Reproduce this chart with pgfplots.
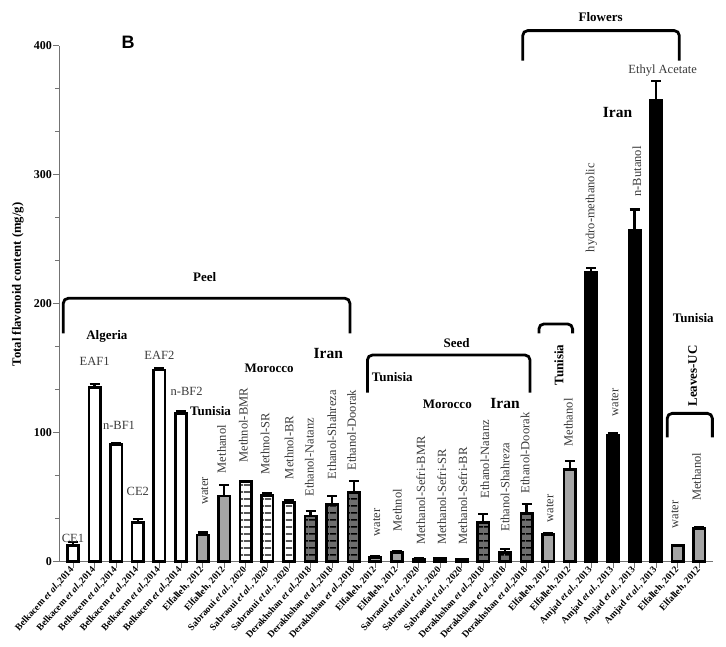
\documentclass[border=0pt]{standalone}
\usepackage{pgfplots}
\pgfplotsset{compat=1.18}
\usepackage{fontspec}
\setmainfont{Liberation Serif}
\newfontfamily\sansfont{Liberation Sans}
\usetikzlibrary{patterns.meta}
\definecolor{tgray}{HTML}{A5A5A5}
\definecolor{igray}{HTML}{6E6E6E}
\definecolor{lblgray}{HTML}{3A3A3A}
\tikzset{
  lbl/.style={font=\fontsize{12.5}{13}\selectfont, text=lblgray, inner sep=0pt},
  rlbl/.style={lbl, rotate=90, anchor=west},
  cty/.style={font=\bfseries\fontsize{13}{13}\selectfont, inner sep=0pt},
  iranlbl/.style={font=\bfseries\fontsize{15.5}{16}\selectfont, inner sep=0pt},
  brk/.style={line width=2.8pt, rounded corners=5pt},
}

\pgfplotstableread{
x y e
0 12.4 2.8
1 134.9 2.6
2 91.0 1.3
3 30.5 2.3
4 148.6 1.8
5 115.0 2.0
}\algeria
\pgfplotstableread{
x y e
6 20.7 2.0
7 50.9 8.5
14 3.4 1.3
15 7.0 1.3
22 21.2 1.3
23 71.6 6.4
28 12.4 0.8
29 25.6 1.5
}\tunisia
\pgfplotstableread{
x y e
8 62.0 0.0
9 51.4 2.1
10 45.7 2.1
16 2.0 0.5
17 2.3 0.8
18 1.5 0.3
}\morocco
\pgfplotstableread{
x y e
11 35.4 4.1
12 44.4 6.7
13 53.5 9.3
19 30.2 6.8
20 7.2 2.8
21 37.5 7.0
}\iran
\pgfplotstableread{
x y e
24 224.6 3.0
25 97.7 1.8
26 257.0 16.0
27 358.0 14.7
}\iranfl

\begin{document}
\begin{tikzpicture}
\useasboundingbox (-59pt,-84.3pt) rectangle (667pt,561.7pt);
\begin{axis}[
  scale only axis, width=654pt, height=516pt,
  xmin=-0.648, xmax=29.63, ymin=0, ymax=400,
  axis lines=left, axis line style={black!55, line width=0.8pt, -},
  clip=false,
  ytick={0,100,200,300,400}, minor y tick num=2,
  xtick={0,...,29},
  xticklabels={
    {Belkacem \textit{et al.},2014},{Belkacem \textit{et al.},2014},{Belkacem \textit{et al.},2014},
    {Belkacem \textit{et al.},2014},{Belkacem \textit{et al.},2014},{Belkacem \textit{et al.},2014},
    {Elfalleh, 2012},{Elfalleh, 2012},
    {Sabraoui \textit{et al.}, 2020},{Sabraoui \textit{et al.}, 2020},{Sabraoui \textit{et al.}, 2020},
    {Derakhshan \textit{et al.},2018},{Derakhshan \textit{et al.},2018},{Derakhshan \textit{et al.},2018},
    {Elfalleh, 2012},{Elfalleh, 2012},
    {Sabraoui \textit{et al.}, 2020},{Sabraoui \textit{et al.}, 2020},{Sabraoui \textit{et al.}, 2020},
    {Derakhshan \textit{et al.},2018},{Derakhshan \textit{et al.},2018},{Derakhshan \textit{et al.},2018},
    {Elfalleh, 2012},{Elfalleh, 2012},
    {Amjad \textit{et al.}, 2013},{Amjad \textit{et al.}, 2013},{Amjad \textit{et al.}, 2013},{Amjad \textit{et al.}, 2013},
    {Elfalleh, 2012},{Elfalleh, 2012}},
  tick style={black!55, line width=0.8pt},
  major tick length=6pt, minor tick length=4pt,
  tick align=outside,
  /pgf/number format/assume math mode=true,
  yticklabel style={font=\bfseries\fontsize{12}{12}\selectfont, inner sep=1pt},
  xticklabel style={font=\bfseries\fontsize{9.5}{10}\selectfont, rotate=48, anchor=east, inner sep=1pt},
  barsty/.style={ybar, bar width=11.5pt, bar shift=0pt, draw=black, line width=2.6pt,
    error bars/y dir=plus, error bars/y explicit,
    error bars/error bar style={line width=2.2pt, black},
    error bars/error mark options={line width=2.2pt, mark size=5pt, black, rotate=90}},
]
\addplot[barsty, fill=white] table[x=x, y=y, y error=e] {\algeria};
\addplot[barsty, fill=tgray] table[x=x, y=y, y error=e] {\tunisia};
\addplot[barsty, fill=white, postaction={pattern={Lines[angle=0, distance=6.5pt, line width=1.5pt]}, pattern color=black}] table[x=x, y=y, y error=e] {\morocco};
\addplot[barsty, fill=igray, postaction={pattern={Lines[angle=0, distance=6.5pt, line width=1.5pt]}, pattern color=black}] table[x=x, y=y, y error=e] {\iran};
\addplot[barsty, fill=black] table[x=x, y=y, y error=e] {\iranfl};

% panel letter and y label
\node[font=\sansfont\bfseries\fontsize{18}{18}\selectfont] at (2.55,402.9) {B};
\node[rotate=90, font=\bfseries\fontsize{12.7}{13}\selectfont] at (-2.55,215) {Total flavonoid content (mg/g)};

% Peel
\draw[brk] (-0.45,177) -- (-0.45,204.2) -- (12.82,204.2) -- (12.82,177);
\node[cty] at (6.1,220.8) {Peel};
\node[cty] at (1.57,174.8) {Algeria};
\node[cty] at (6.37,116.8) {Tunisia};
\node[cty] at (9.08,149.9) {Morocco};
\node[iranlbl] at (11.82,161.5) {Iran};
\node[lbl] at (0,18.4) {CE1};
\node[lbl] at (1,155.6) {EAF1};
\node[lbl] at (2.13,106) {n-BF1};
\node[lbl] at (3,54.8) {CE2};
\node[lbl] at (4,159.7) {EAF2};
\node[lbl] at (5.26,131.8) {n-BF2};
\node[rlbl] at (6.1,44) {water};
\node[rlbl] at (6.88,68.5) {Methanol};
\node[rlbl] at (7.89,76.8) {Methnol-BMR};
\node[rlbl] at (8.89,67.2) {Methnol-SR};
\node[rlbl] at (10.0,63.9) {Methnol-BR};
\node[rlbl] at (10.94,50.4) {Ethanol-Natanz};
\node[rlbl] at (11.98,63.9) {Ethanol-Shahreza};
\node[rlbl] at (12.9,70.6) {Ethanol-Doorak};

% Seed
\draw[brk] (13.63,131) -- (13.63,160.2) -- (21.16,160.2) -- (21.16,131);
\node[cty] at (17.76,169.8) {Seed};
\node[cty, anchor=west] at (13.83,143.4) {Tunisia};
\node[cty] at (17.33,122.3) {Morocco};
\node[iranlbl] at (20.0,122.3) {Iran};
\node[rlbl] at (14.06,19.4) {water};
\node[rlbl] at (15.02,23.3) {Methnol};
\node[rlbl] at (16.1,12.9) {Methanol-Sefri-BMR};
\node[rlbl] at (17.07,12.9) {Methanol-Sefri-SR};
\node[rlbl] at (18.04,12.9) {Methanol-Sefri-BR};
\node[rlbl] at (19.07,49) {Ethanol-Natanz};
\node[rlbl] at (20.0,23.3) {Ethanol-Shahreza};
\node[rlbl] at (20.93,53) {Ethanol-Doorak};

% Flowers
\draw[brk] (21.57,177) -- (21.57,184.3) -- (23.13,184.3) -- (23.13,177);
\node[cty, rotate=90] at (22.5,152.5) {Tunisia};
\node[rlbl] at (22.08,30.2) {water};
\node[rlbl] at (22.93,89.2) {Methanol};
\draw[brk] (20.82,388.4) -- (20.82,411.7) -- (28.07,411.7) -- (28.07,388.4);
\node[cty] at (24.43,422.5) {Flowers};
\node[lbl] at (27.3,380.6) {Ethyl Acetate};
\node[iranlbl] at (25.21,348) {Iran};
\node[lbl, rotate=90, anchor=east] at (24.0,309) {hydro-methanolic};
\node[rlbl] at (25.09,112.4) {water};
\node[rlbl] at (26.1,283) {n-Butanol};

% Leaves
\node[cty] at (28.72,188.7) {Tunisia};
\node[cty, rotate=90] at (28.69,144) {Leaves-UC};
\draw[brk] (27.51,96.4) -- (27.51,115) -- (29.6,115) -- (29.6,96.4);
\node[rlbl] at (27.87,25.9) {water};
\node[rlbl] at (28.87,47) {Methanol};
\end{axis}
\end{tikzpicture}
\end{document}
